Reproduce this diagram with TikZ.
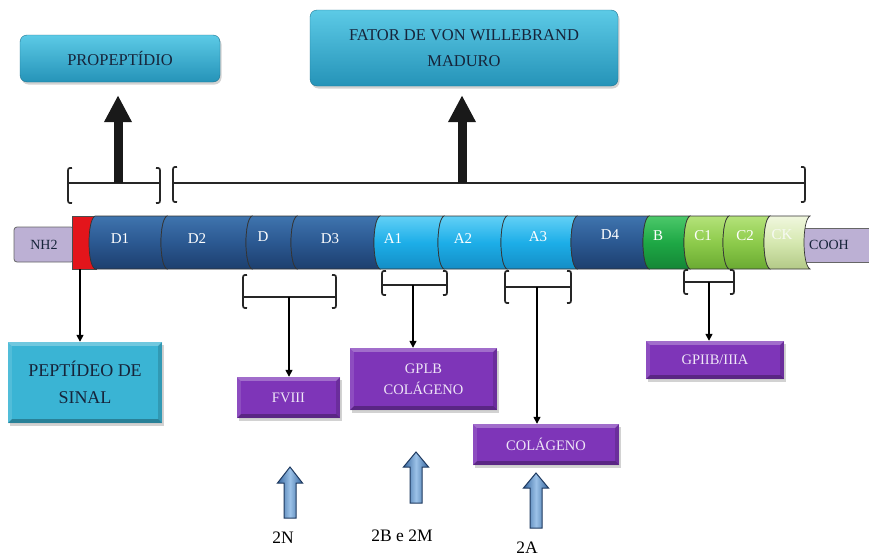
\documentclass[tikz,border=0pt]{standalone}
\usepackage{fontspec}
\setmainfont{Liberation Serif}
\usetikzlibrary{arrows.meta,shadows,calc}

\definecolor{cyanT}{HTML}{5CCAE6}
\definecolor{cyanB}{HTML}{2593B8}
\definecolor{cyanM}{HTML}{3AB4D4}
\definecolor{navytxt}{HTML}{16243A}
\definecolor{purp}{HTML}{7E35B8}
\definecolor{purptxt}{HTML}{EFE6F7}
\definecolor{lav}{HTML}{BCB0D4}
\definecolor{redseg}{HTML}{E3151B}
\definecolor{dT}{HTML}{3F74AE}\definecolor{dM}{HTML}{2B5891}\definecolor{dB}{HTML}{1D3F6E}
\definecolor{aT}{HTML}{62D0F6}\definecolor{aM}{HTML}{1DAEE8}\definecolor{aB}{HTML}{138DC5}
\definecolor{bT}{HTML}{4CC86A}\definecolor{bM}{HTML}{1EA845}\definecolor{bB}{HTML}{148636}
\definecolor{cT}{HTML}{B4E27A}\definecolor{cM}{HTML}{8DCB4B}\definecolor{cB}{HTML}{6AAA32}
\definecolor{kT}{HTML}{F0F7DE}\definecolor{kM}{HTML}{D5E8B0}\definecolor{kB}{HTML}{B3C987}
\definecolor{arrT}{HTML}{9CC2E8}\definecolor{arrD}{HTML}{34659E}\definecolor{arrO}{HTML}{1F3A60}

\newcommand\dom[3]{%
  \path[draw=black!80, line width=0.7pt, top color=#3T, bottom color=#3B, middle color=#3M]
   (#1+7,216) .. controls (#1-1,220) and (#1-1,265) .. (#1+7,269) -- (#2+7,269)
   .. controls (#2-1,265) and (#2-1,220) .. (#2+7,216) -- cycle;}

\newcommand\brk[5]{%
  \draw[brk] (#1+4,#3) .. controls (#1,#3) .. (#1,#3+5) -- (#1,#5-5) .. controls (#1,#5) .. (#1+4,#5);
  \draw[brk] (#2-4,#3) .. controls (#2,#3) .. (#2,#3+5) -- (#2,#5-5) .. controls (#2,#5) .. (#2-4,#5);
  \draw[brk] (#1,#4) -- (#2,#4);}

\newcommand\bevel[2]{%
  \fill[white,opacity=.28] (#1.north west) -- (#1.north east) -- ([shift={(-#2,-#2)}]#1.north east) -- ([shift={(#2,-#2)}]#1.north west) -- cycle;
  \fill[white,opacity=.12] (#1.north west) -- ([shift={(#2,-#2)}]#1.north west) -- ([shift={(#2,#2)}]#1.south west) -- (#1.south west) -- cycle;
  \fill[black,opacity=.28] (#1.south west) -- (#1.south east) -- ([shift={(-#2,#2)}]#1.south east) -- ([shift={(#2,#2)}]#1.south west) -- cycle;
  \fill[black,opacity=.15] (#1.north east) -- ([shift={(-#2,-#2)}]#1.north east) -- ([shift={(-#2,#2)}]#1.south east) -- (#1.south east) -- cycle;}

\newcommand\barrow[4]{%
  \path[draw=arrO, line width=1pt, left color=arrD, right color=arrD, middle color=arrT]
   (#1-6,#4) -- (#1-6,#3) -- (#1-12.5,#3) -- (#1,#2) -- (#1+12.5,#3) -- (#1+6,#3) -- (#1+6,#4) -- cycle;}

\begin{document}
\begin{tikzpicture}[x=1pt,y=-1pt,
  brk/.style={line width=1.7pt, black!85},
  conn/.style={line width=1.5pt, black, -{Triangle[length=7pt,width=7pt]}},
  bigarrow/.style={line width=9pt, black!90, -{Triangle[length=27pt,width=26pt]}},
  shad/.style={drop shadow={shadow xshift=1.5pt, shadow yshift=-2.5pt, opacity=0.35}},
  topbox/.style={shad, rounded corners=7pt, top color=cyanT, bottom color=cyanB, draw=cyanB!80!black, line width=0.4pt, text=navytxt},
  sinalbox/.style={shad, fill=cyanM, text=navytxt, align=center, font=\fontsize{18}{27}\selectfont},
  purpbox/.style={shad, fill=purp, text=purptxt, align=center, font=\fontsize{14.5}{21}\selectfont},
  domlbl/.style={text=white, font=\fontsize{15}{18}\selectfont},
  endlbl/.style={text=navytxt, font=\fontsize{14}{17}\selectfont},
  botlbl/.style={text=black, font=\fontsize{17.5}{20}\selectfont}]

\useasboundingbox (0,0) rectangle (869,557);
\fill[white] (0,0) rectangle (869,557);
\clip (0,0) rectangle (869,557);

% top boxes
\node[topbox, minimum width=200pt, minimum height=47pt, font=\fontsize{16.5}{20}\selectfont] (prop) at (120,58.5) {PROPEPTÍDIO};
\node[topbox, minimum width=308pt, minimum height=76pt, align=center, font=\fontsize{16.5}{26}\selectfont] (vwf) at (464,48) {FATOR DE VON WILLEBRAND\\MADURO};

% top brackets
\brk{68}{160}{168}{183}{203}
\brk{173}{805}{167}{183}{202}
\coordinate (bP) at (118,183);
\coordinate (bV) at (462,183);
\draw[bigarrow, shorten >=13pt] (bP) -- (bP |- prop.south);
\draw[bigarrow, shorten >=9pt] (bV) -- (bV |- vwf.south);

% bar ends
\node[fill=lav, draw=black!60, line width=0.8pt, rounded corners=3pt, minimum width=60pt, minimum height=35pt, endlbl] (nh2) at (44,244.5) {NH2};
\path[fill=lav, draw=black!60, line width=0.8pt] (797,228) rectangle (885,262);
\node[endlbl] (cooh) at (829,245) {COOH};
\path[fill=redseg, draw=black!70, line width=0.7pt] (72,216) rectangle (96,269);

% domains
\dom{88}{160}{d}
\dom{160}{245}{d}
\dom{245}{290}{d}
\dom{290}{373}{d}
\dom{373}{437}{a}
\dom{437}{500}{a}
\dom{500}{570}{a}
\dom{570}{642}{d}
\dom{642}{683}{b}
\dom{683}{722}{c}
\dom{722}{763}{c}
\dom{763}{803}{k}

\node[domlbl] (lD1) at (120,239) {D1};
\node[domlbl] (lD2) at (197,239) {D2};
\node[domlbl] (lD) at (263,237) {D};
\node[domlbl] (lD3) at (330,239) {D3};
\node[domlbl] (lA1) at (393,239) {A1};
\node[domlbl] (lA2) at (463,239) {A2};
\node[domlbl] (lA3) at (538,237) {A3};
\node[domlbl] (lD4) at (610,235) {D4};
\node[domlbl] (lB) at (658,236) {B};
\node[domlbl] (lC1) at (703,236) {C1};
\node[domlbl] (lC2) at (745,236) {C2};
\node[domlbl, text=white!90!kB] (lCK) at (782,235) {CK};

% lower boxes
\node[sinalbox, minimum width=154pt, minimum height=81pt] (sinal) at (85,382.5) {PEPTÍDEO DE\\SINAL};
\bevel{sinal}{4pt}
\node[purpbox, minimum width=103pt, minimum height=41pt] (fviii) at (288.5,397.5) {FVIII};
\bevel{fviii}{4pt}
\node[purpbox, minimum width=147pt, minimum height=62pt] (gplb) at (423.5,379) {GPLB\\COLÁGENO};
\bevel{gplb}{4pt}
\node[purpbox, minimum width=146pt, minimum height=41pt] (colag) at (546,444.5) {COLÁGENO};
\bevel{colag}{4pt}
\node[purpbox, minimum width=138pt, minimum height=38pt] (gpiib) at (715,360) {GPIIB/IIIA};
\bevel{gpiib}{4pt}

% lower brackets
\brk{243}{336}{275}{297}{308}
\brk{382}{447}{271}{285}{295}
\brk{505}{571}{271}{287}{303}
\brk{684}{734}{270}{282}{294}
\coordinate (sig) at (80,269);
\coordinate (bD) at (289,297);
\coordinate (bA1) at (413,285);
\coordinate (bA3) at (537,287);
\coordinate (bC) at (709,282);
\draw[conn] (sig) -- (sig |- sinal.north);
\draw[conn] (bD) -- (bD |- fviii.north);
\draw[conn] (bA1) -- (bA1 |- gplb.north);
\draw[conn] (bA3) -- (bA3 |- colag.north);
\draw[conn] (bC) -- (bC |- gpiib.north);

% blue arrows and labels
\barrow{290}{467}{483}{518}
\barrow{416}{452}{467}{503}
\barrow{536}{473}{488}{528}
\node[botlbl] (l2N) at (283,538) {2N};
\node[botlbl] (l2B) at (402,536) {2B e 2M};
\node[botlbl] (l2A) at (527,548) {2A};
\end{tikzpicture}
\end{document}
